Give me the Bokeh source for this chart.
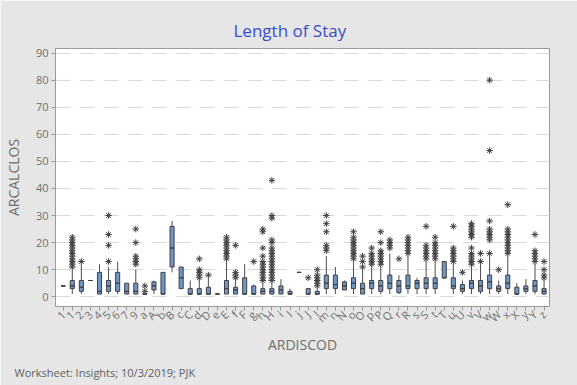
from bokeh.plotting import figure
from bokeh.models import Range1d, FixedTicker, Title, ColumnDataSource
from bokeh.embed import file_html
from bokeh.resources import INLINE

labels = ["1", "1", "2", "3", "4", "5", "6", "7", "9",
          "a", "A", "b", "B", "c", "C", "d", "D", "e", "E", "f", "F",
          "g", "h", "H", "i", "I", "j", "J", "l", "m", "n", "N",
          "o", "O", "p", "P", "Q", "r", "R", "s", "S", "t", "T",
          "u", "U", "v", "V", "w", "W", "x", "X", "y", "Y", "z"]

q1 = [4, 3, 2, 6, 1, 2, 2, 1, 1,
      1, 2.5, 1, 11, 3, 1, 1, 1, 1, 1, 1, 1,
      1, 1, 1, 1, 1, 9, 1, 1, 3, 3, 2.5,
      3, 1, 3, 2, 3, 1.5, 3, 3, 3, 3, 7,
      3, 2, 3, 2, 3, 2, 3, 1, 2, 2, 1]
med = [4, 4, 3.5, 6, 2, 4, 5, 2, 2,
       1, 4, 1, 18, 7, 1, 1, 1, 1, 3, 2.5, 1,
       1, 2, 2, 2.5, 1, 9, 1, 1, 5, 4.5, 4,
       5, 3, 5, 4, 5, 4, 4, 5, 5, 5, 7,
       4, 3, 5, 4, 5.5, 3, 5, 1, 3, 4, 2]
q3 = [4, 6, 6, 6, 9, 6, 9, 5, 5,
      1, 5.5, 9, 26, 11, 3, 3, 3.5, 1, 6, 3.5, 7,
      4, 3, 3, 4, 2, 9, 3, 2, 8, 8, 5.5,
      7, 5, 6, 6, 8, 6, 8, 6, 7, 7, 13,
      7, 4.5, 6, 6, 8, 4, 8, 3.5, 4, 6, 3]
lo = [4, 1, 1, 6, 1, 1, 1, 1, 1,
      1, 1, 1, 9, 3, 1, 1, 1, 1, 1, 1, 1,
      1, 1, 1, 1, 1, 9, 1, 1, 1, 1, 2.5,
      1, 1, 1, 1, 1, 1, 1, 1, 1, 1, 7,
      1, 1, 1, 1, 1, 1, 1, 1, 1, 1, 1]
hi = [4, 10, 12, 6, 12, 11, 13, 5, 10,
      1, 6, 9, 28, 11, 6, 6, 7, 1, 13, 6, 12,
      4.5, 5, 5, 6.5, 3, 9, 3, 3, 15, 11, 6,
      13, 10, 11, 11, 16, 8, 15, 7, 13, 13, 13,
      12, 6, 11, 12, 15, 6, 15, 5, 6.5, 12, 6]
outliers = [
    [], [11, 12, 13, 14, 15, 16, 17, 18, 19, 20, 21, 22], [13], [], [], [13, 19, 23, 30], [], [], [12, 13, 14, 15, 20, 25],
    [2, 4], [], [], [], [], [], [7, 8, 9, 10, 14], [8], [], [14, 15, 16, 17, 18, 19, 20, 21, 22], [7, 8, 9, 19], [],
    [13], [6, 7, 8, 9, 10, 11, 12, 13, 15, 18, 24, 25],
    [6, 7, 8, 9, 10, 11, 12, 13, 14, 15, 16, 17, 18, 20, 21, 29, 30, 43],
    [], [], [], [7], [4, 5, 6, 7, 8, 10], [17, 18, 19, 24, 27, 30], [], [],
    [14, 15, 16, 17, 18, 19, 20, 21, 22, 24], [11, 13, 15], [12, 13, 14, 15, 16, 18],
    [12, 13, 14, 15, 16, 17, 20, 24], [18, 19, 20, 21], [14], [16, 17, 18, 19, 20, 21, 22], [],
    [14, 15, 16, 17, 18, 19, 26], [14, 15, 16, 17, 18, 19, 20, 22], [],
    [13, 14, 15, 16, 17, 18, 26], [9], [12, 13, 14, 15, 16, 18, 22, 23, 24, 25, 26, 27], [13, 16],
    [16, 21, 22, 23, 24, 25, 28, 54, 80], [10], [16, 17, 18, 19, 20, 21, 22, 23, 24, 25, 34], [], [],
    [13, 14, 15, 16, 17, 23], [7, 8, 10, 13],
]
yticks = [0, 10, 20, 30, 40, 50, 60, 70, 80, 90]

xs = list(range(1, len(labels) + 1))
src = ColumnDataSource(dict(x=xs, q1=q1, med=med, q3=q3, lo=lo, hi=hi))
ox, oy = [], []
for x, vals in zip(xs, outliers):
    for v in vals:
        ox.append(x)
        oy.append(v)

FONT = "Open Sans"
GRAY = "#9A9A9A"

p = figure(frame_width=494, frame_height=258,
           x_range=Range1d(0.15, 54.6), y_range=Range1d(-3.6, 91.7),
           output_backend="svg", toolbar_location=None, title=None,
           min_border_left=54, min_border_right=29, min_border_top=48, min_border_bottom=79,
           background_fill_color="white", border_fill_color="#E6E6E6",
           outline_line_color=GRAY)

p.segment(x0="x", y0="lo", x1="x", y1="q1", source=src, line_color="#4D4D4D", line_width=1)
p.segment(x0="x", y0="q3", x1="x", y1="hi", source=src, line_color="#4D4D4D", line_width=1)
p.vbar(x="x", bottom="q1", top="q3", width=0.45, source=src,
       fill_color="#7096C8", line_color="#404040", line_width=1)
p.vbar(x="x", bottom="med", top="med", width=0.45, source=src,
       fill_color=None, line_color="#404040", line_width=1)
p.scatter(ox, oy, marker="asterisk", size=6.5, line_color="#404040", line_width=1)

p.xaxis.ticker = FixedTicker(ticks=xs)
p.xaxis.major_label_overrides = {x: lab for x, lab in zip(xs, labels)}
p.xaxis.major_label_orientation = 0.785
p.yaxis.ticker = FixedTicker(ticks=yticks)
for ax in (p.xaxis, p.yaxis):
    ax.axis_line_color = GRAY
    ax.major_tick_line_color = GRAY
    ax.minor_tick_line_color = None
    ax.major_tick_in = 0
    ax.major_tick_out = 4
    ax.major_label_text_font = FONT
    ax.major_label_text_font_size = "11px"
    ax.major_label_text_color = "#707070"
    ax.axis_label_text_font = FONT
    ax.axis_label_text_font_size = "14px"
    ax.axis_label_text_font_style = "normal"
    ax.axis_label_text_color = "#6E6E6E"
p.xaxis.axis_label = "ARDISCOD"
p.yaxis.axis_label = "ARCALCLOS"
p.xaxis.axis_label_standoff = 2
p.yaxis.axis_label_standoff = 10
p.yaxis.major_label_standoff = 3
p.xaxis.major_label_standoff = 2

p.xgrid.visible = False
p.ygrid.grid_line_color = "#D9D9D9"
p.ygrid.grid_line_dash = "15 9"

p.add_layout(Title(text="Length of Stay", align="left", offset=178, standoff=13,
                   text_font=FONT, text_font_size="17px", text_font_style="normal",
                   text_color="#3A4DC6"), "above")
p.add_layout(Title(text="Worksheet: Insights; 10/3/2019; PJK", align="left", offset=-41,
                   standoff=11, text_font=FONT, text_font_size="11px",
                   text_font_style="normal", text_color="#606060"), "below")

open("out.html", "w").write(file_html(p, INLINE))
